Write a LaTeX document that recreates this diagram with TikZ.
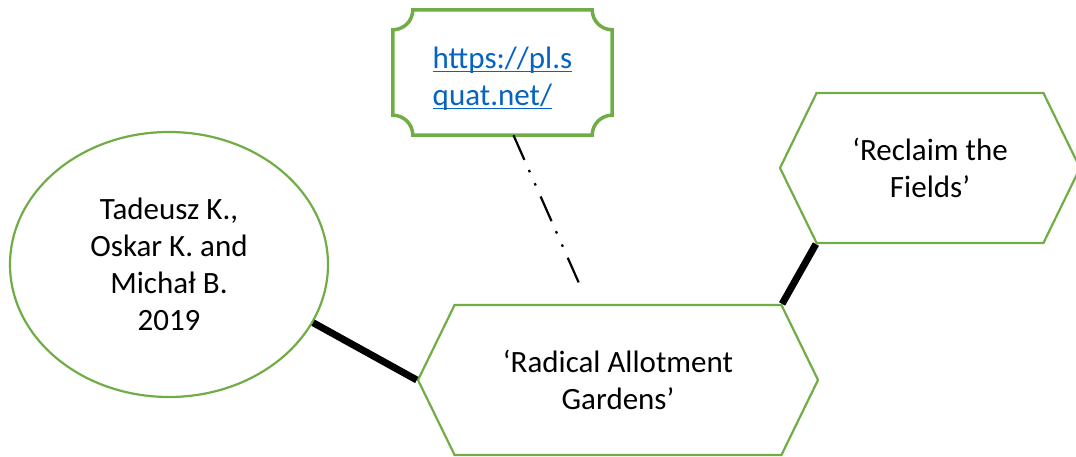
\documentclass[tikz,border=0pt]{standalone}
\usepackage{fontspec}
\setmainfont{Carlito}
\usetikzlibrary{shapes.geometric,shapes.symbols,calc}
\definecolor{mygreen}{HTML}{70AD47}
\definecolor{linkblue}{HTML}{0563C1}
\newcommand\linkul[1]{\setbox0\hbox{#1}\rlap{\rule[-3.5pt]{\wd0}{1.6pt}}\box0}
\tikzset{
  lbl/.style={font=\fontsize{31}{37}\selectfont, align=center, inner sep=0pt},
  hexa/.style={lbl, shape=signal, signal to=west and east, signal pointer angle=128,
    draw=mygreen, line width=2.2pt, minimum height=150pt},
  ellbox/.style={lbl, shape=ellipse, draw=mygreen, line width=2.2pt},
  urlbox/.style={font=\fontsize{31}{37}\selectfont, align=left, inner sep=0pt,
    text=linkblue, minimum width=219pt, minimum height=125pt, text height=72pt},
  plaque/.style={draw=mygreen, line width=3.5pt},
  strong/.style={draw=black, line width=7pt},
  dashdotdot/.style={draw=black, line width=2.2pt,
    dash pattern=on 27pt off 11pt on 2.5pt off 12pt on 2.5pt off 12pt}
}
\begin{document}
\begin{tikzpicture}[x=1pt,y=1pt]
\useasboundingbox (0,0) rectangle (1076,457);
% nodes
\node[ellbox, minimum width=318pt, minimum height=265pt] (ell) at (169,192.5)
  {Tadeusz K.,\\Oskar K. and\\Michał B.\\2019};
\node[hexa, minimum width=400pt] (bh) at (618,77) {‘Radical Allotment\\Gardens’};
\node[hexa, minimum width=300pt] (sh) at (930,289) {‘Reclaim the\\Fields’};
\node[urlbox] (url) at (502.5,384.5) {\linkul{https://pl.s}\\\linkul{quat.net/}};
\draw[plaque]
  ([xshift=20pt]url.north west) -- ([xshift=-20pt]url.north east)
  arc[start angle=180, end angle=270, radius=20pt]
  -- ([yshift=20pt]url.south east)
  arc[start angle=90, end angle=180, radius=20pt]
  -- ([xshift=20pt]url.south west)
  arc[start angle=0, end angle=90, radius=20pt]
  -- ([yshift=-20pt]url.north west)
  arc[start angle=270, end angle=360, radius=20pt] -- cycle;
\coordinate (free) at (582,167);
% connectors
\draw[strong] (ell.-22) -- (bh.west);
\draw[strong] (bh.north east) -- (sh.south west);
\draw[dashdotdot] ($(url.south west)!0.55!(url.south east)$) -- (free);
\end{tikzpicture}
\end{document}
